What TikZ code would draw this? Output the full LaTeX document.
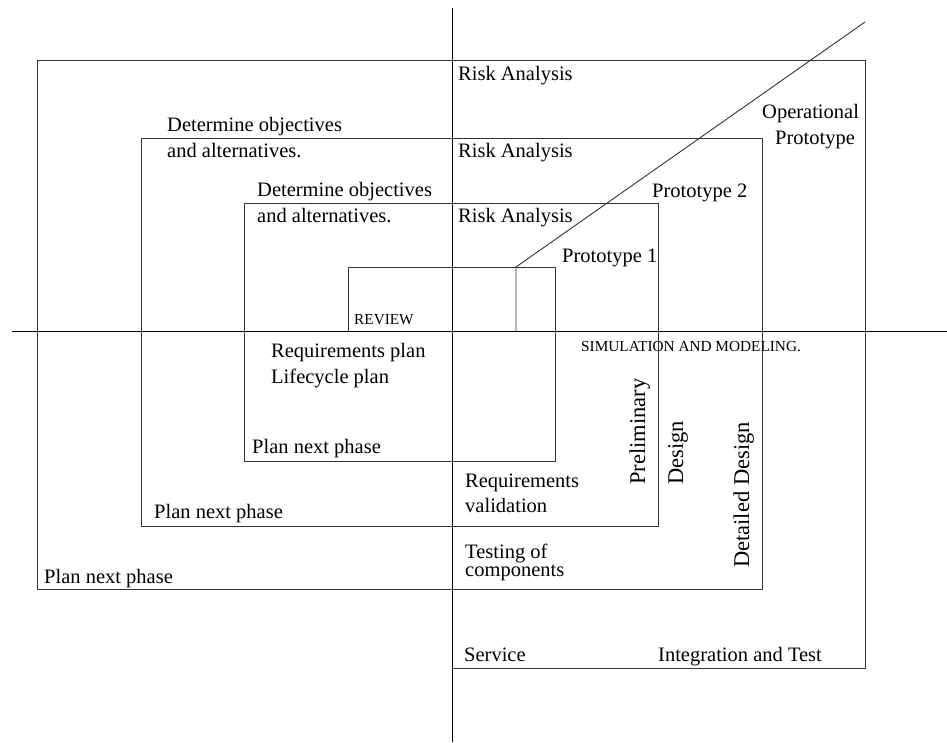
\documentclass[tikz,border=0pt]{standalone}
\usepackage{fontspec}
\setmainfont{Liberation Serif}
\begin{document}
\begin{tikzpicture}[x=1pt,y=-1pt,
  axis/.style={line width=0.9pt, black},
  spiral/.style={line width=0.9pt, black!80, line join=miter},
  lbl/.style={anchor=base west, inner sep=0pt, font=\fontsize{20.5}{24}\selectfont},
  small/.style={anchor=base west, inner sep=0pt, font=\fontsize{15.3}{18}\selectfont},
  vlbl/.style={anchor=base west, inner sep=0pt, rotate=90, font=\fontsize{22.5}{26}\selectfont}]
\useasboundingbox (0,0) rectangle (947,742);

% quadrant axes
\coordinate (vtop) at (452,8);
\coordinate (vbot) at (452,742);
\coordinate (hl) at (12,331);
\coordinate (hr) at (947,331);
\draw[axis] (vtop) -- (vbot);
\draw[axis] (hl) -- (hr);

% the square spiral, from the innermost turn outwards
\draw[spiral] (348,331) -- (348,267) -- (555,267) -- (555,461) -- (244,461)
  -- (244,203) -- (658,203) -- (658,526) -- (141,526) -- (141,138)
  -- (762,138) -- (762,589) -- (37,589) -- (37,60) -- (865,60)
  -- (865,668) -- (452,668);

% prototype divider and the diagonal through the prototypes
\coordinate (p0) at (516,331);
\coordinate (p1) at (516,267);
\coordinate (pend) at (865,22);
\draw[spiral] (p0) -- (p1) -- (pend);

% upper left: objectives
\node[lbl] (obj1a) at (167,131) {Determine objectives};
\node[lbl] (obj1b) at (167,157) {and alternatives.};
\node[lbl] (obj2a) at (257,196) {Determine objectives};
\node[lbl] (obj2b) at (257,222) {and alternatives.};
\node[small] (review) at (354,324) {REVIEW};

% upper right: risk analysis and prototypes
\node[lbl] (risk1) at (458,80) {Risk Analysis};
\node[lbl] (risk2) at (458,157) {Risk Analysis};
\node[lbl] (risk3) at (458,222) {Risk Analysis};
\node[lbl] (proto1) at (562,262) {Prototype 1};
\node[lbl] (proto2) at (652,197) {Prototype 2};
\node[lbl] (opa) at (762,118) {Operational};
\node[lbl] (opb) at (775,144) {Prototype};

% lower left: planning
\node[lbl] (req) at (271,357) {Requirements plan};
\node[lbl] (life) at (271,383) {Lifecycle plan};
\node[lbl] (plan1) at (252,453) {Plan next phase};
\node[lbl] (plan2) at (154,518) {Plan next phase};
\node[lbl] (plan3) at (44,583) {Plan next phase};

% lower right: engineering
\node[small] (sim) at (581,351) {SIMULATION AND MODELING.};
\node[lbl] (rva) at (465,487) {Requirements};
\node[lbl] (rvb) at (465,512) {validation};
\node[lbl] (tca) at (465,558) {Testing of};
\node[lbl] (tcb) at (465,576) {components};
\node[vlbl] (prel) at (645,485) {Preliminary};
\node[vlbl] (des) at (683,485) {Design};
\node[vlbl] (det) at (749,568) {Detailed Design};
\node[lbl] (serv) at (464,661) {Service};
\node[lbl] (integ) at (658,661) {Integration and Test};
\end{tikzpicture}
\end{document}
